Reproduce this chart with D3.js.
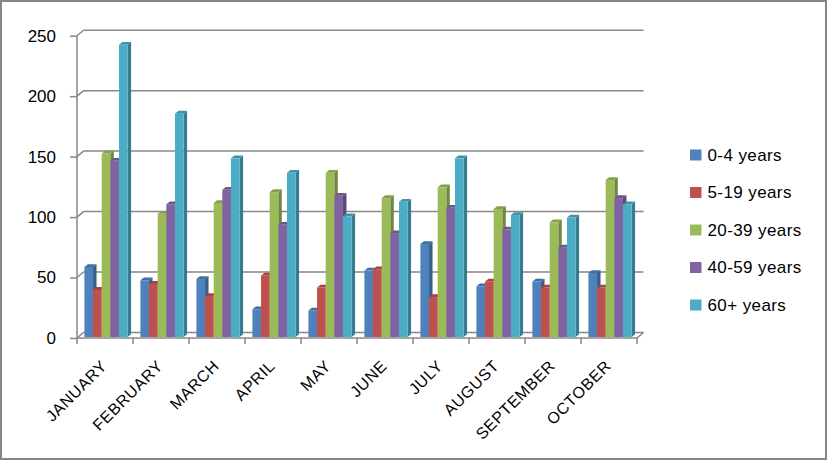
<!DOCTYPE html>
<html>
<head>
<meta charset="utf-8">
<script src="https://cdn.jsdelivr.net/npm/d3@7"></script>
<style>
  body { margin: 0; background: #fff; }
  svg { display: block; font-family: "Liberation Sans", Arial, sans-serif; }
</style>
</head>
<body>
<div class="inner-container"></div>
<script>
const months = ['JANUARY', 'FEBRUARY', 'MARCH', 'APRIL', 'MAY', 'JUNE', 'JULY', 'AUGUST', 'SEPTEMBER', 'OCTOBER']
const seriesNames = ['0-4 years', '5-19 years', '20-39 years', '40-59 years', '60+ years']
const age0to4 = [58, 47, 48, 23, 22, 55, 77, 42, 46, 53]
const age5to19 = [39, 44, 34, 51, 41, 56, 33, 46, 41, 41]
const age20to39 = [152, 102, 111, 120, 136, 115, 124, 106, 95, 130]
const age40to59 = [146, 110, 122, 93, 117, 86, 107, 89, 74, 115]
const age60plus = [242, 185, 148, 136, 100, 112, 148, 101, 99, 110]
const yTicks = [0, 50, 100, 150, 200, 250]
const colors = ['#4F81BD', '#C0504D', '#9BBB59', '#8064A2', '#4BACC6']

const seriesValues = [age0to4, age5to19, age20to39, age40to59, age60plus]

const w = 827, h = 460
const depth = { x: 6.5, y: -5.5 }     // back wall offset
const barDepth = { x: 3.5, y: -2.8 }  // bar side / top offset
const gridColor = '#878787'

const svg = d3.select('.inner-container')
  .append('svg')
  .attr('width', w)
  .attr('height', h)

// outer frame
svg.append('rect')
  .attr('x', 1).attr('y', 1)
  .attr('width', w - 2).attr('height', h - 2)
  .attr('fill', '#fff')
  .attr('stroke', '#868686')
  .attr('stroke-width', 2)

const x = d3.scaleBand()
  .domain(months)
  .range([77, 637])

const y = d3.scaleLinear()
  .domain([0, 250])
  .range([338, 35.7])

const yBar = d3.scaleLinear()
  .domain([0, 250])
  .range([337, 35.2])

const xSeries = d3.scaleBand()
  .domain(seriesNames)
  .range([0, 43.2])

const grid = svg.append('g')

// back wall gridlines + diagonal connectors to the front axis
yTicks.forEach(t => {
  grid.append('line')
    .attr('x1', 77 + depth.x).attr('x2', 637 + depth.x)
    .attr('y1', y(t) + depth.y).attr('y2', y(t) + depth.y)
    .attr('stroke', gridColor).attr('stroke-width', 1.5)
  grid.append('line')
    .attr('x1', 77).attr('x2', 77 + depth.x)
    .attr('y1', y(t)).attr('y2', y(t) + depth.y)
    .attr('stroke', gridColor).attr('stroke-width', 1.5)
})

// floor front edge + right slant
grid.append('path')
  .attr('d', `M77,${y(0)}H637L${637 + depth.x},${y(0) + depth.y}`)
  .attr('fill', 'none')
  .attr('stroke', gridColor).attr('stroke-width', 1.5)

// value axis
const yAxis = d3.axisLeft(y)
  .tickValues(yTicks)
  .tickSize(7)
  .tickPadding(14)

svg.append('g')
  .attr('transform', 'translate(77,0)')
  .call(yAxis)
  .call(g => g.selectAll('line, path').attr('stroke', gridColor).attr('stroke-width', 1.5))
  .call(g => g.select('.domain').attr('d', `M0,${y(0)}V${y(250)}`))
  .call(g => g.selectAll('text')
    .attr('font-size', 17)
    .attr('fill', '#000')
    .attr('font-family', '"Liberation Sans", Arial, sans-serif'))

// category axis
const xAxis = d3.axisBottom(x)
  .tickFormat(d => d)

const xg = svg.append('g')
  .attr('transform', `translate(0,${y(0)})`)
  .call(xAxis)

xg.select('.domain').remove()
xg.selectAll('.tick line').remove()
xg.selectAll('.tick text')
  .attr('font-size', 16)
  .attr('letter-spacing', 0.6)
  .attr('fill', '#000')
  .attr('font-family', '"Liberation Sans", Arial, sans-serif')
  .attr('text-anchor', 'end')
  .attr('x', 0)
  .attr('y', 0)
  .attr('dy', 0)
  .attr('transform', 'translate(3,29) rotate(-45)')

// tick marks on boundaries
svg.append('g')
  .selectAll('line')
  .data(d3.range(months.length + 1))
  .enter()
  .append('line')
    .attr('x1', i => 77 + i * x.step())
    .attr('x2', i => 77 + i * x.step())
    .attr('y1', y(0))
    .attr('y2', y(0) + 6)
    .attr('stroke', gridColor)
    .attr('stroke-width', 1.5)

// bars
const bars = svg.append('g')

months.forEach((m, mi) => {
  const groupX = x(m) + (x.bandwidth() - xSeries.range()[1]) / 2 + 1
  seriesNames.forEach((s, si) => {
    const v = seriesValues[si][mi]
    const x0 = groupX + xSeries(s)
    const x1 = x0 + xSeries.bandwidth()
    const y0 = yBar(0)
    const y1 = yBar(v)
    const base = d3.color(colors[si])
    const g = bars.append('g')

    g.append('path')
      .attr('d', `M${x1},${y0}L${x1 + barDepth.x},${y0 + barDepth.y}L${x1 + barDepth.x},${y1 + barDepth.y}L${x1},${y1}Z`)
      .attr('fill', base.darker(0.9))
    g.append('path')
      .attr('d', `M${x0},${y1}L${x0 + barDepth.x},${y1 + barDepth.y}L${x1 + barDepth.x},${y1 + barDepth.y}L${x1},${y1}Z`)
      .attr('fill', base.darker(0.45))
    g.append('rect')
      .attr('x', x0).attr('y', y1)
      .attr('width', x1 - x0).attr('height', y0 - y1)
      .attr('fill', colors[si])
  })
})

// legend
const legend = svg.append('g')
  .attr('transform', 'translate(690,155)')

const rows = legend.selectAll('g')
  .data(seriesNames)
  .enter()
  .append('g')
    .attr('transform', (d, i) => `translate(0,${i * 37.5})`)

rows.append('rect')
  .attr('x', 0).attr('y', -5.5)
  .attr('width', 11.5).attr('height', 11)
  .attr('fill', (d, i) => colors[i])

rows.append('text')
  .attr('x', 17.5)
  .attr('y', 0)
  .attr('dy', '0.35em')
  .attr('font-size', 17)
  .attr('letter-spacing', 0.4)
  .text(d => d)
</script>
</body>
</html>
